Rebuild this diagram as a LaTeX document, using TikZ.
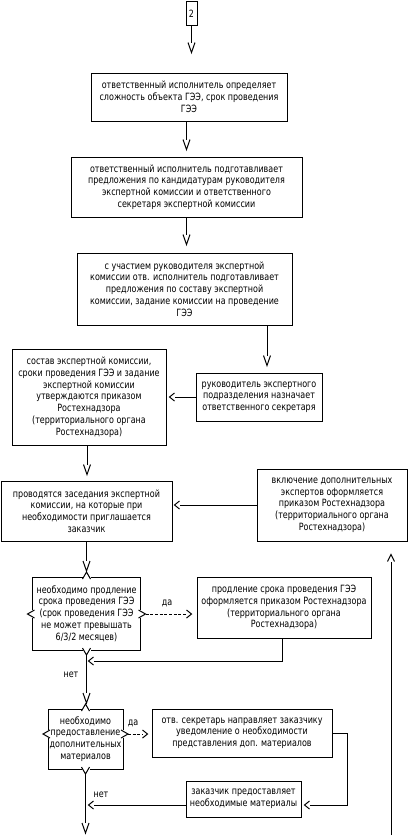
\documentclass[tikz,border=0pt]{standalone}
\usepackage{fontspec}
\setmainfont{DejaVu Sans}[FakeStretch=0.8]
\usetikzlibrary{arrows.meta}
\pgfdeclarearrow{
  name = VTip,
  parameters = {\the\pgfarrowlength,\the\pgfarrowwidth},
  setup code = {
    \pgfarrowssettipend{0pt}
    \pgfarrowssetlineend{-\pgfarrowlength}
    \pgfarrowssetbackend{-\pgfarrowlength}
    \pgfarrowssetvisualbackend{-\pgfarrowlength}
    \pgfarrowshullpoint{0pt}{0pt}
    \pgfarrowsupperhullpoint{-\pgfarrowlength}{.5\pgfarrowwidth}
    \pgfarrowssavethe\pgfarrowlength
    \pgfarrowssavethe\pgfarrowwidth
  },
  drawing code = {
    \pgfsetdash{}{0pt}
    \pgfsetmiterjoin
    \pgfpathmoveto{\pgfqpoint{-\pgfarrowlength}{.5\pgfarrowwidth}}
    \pgfpathlineto{\pgfqpoint{0pt}{0pt}}
    \pgfpathlineto{\pgfqpoint{-\pgfarrowlength}{-.5\pgfarrowwidth}}
    \pgfusepathqstroke
  },
  defaults = {length = 10pt, width = 7pt}
}
\newcommand{\txtfont}{\fontsize{10}{11.75}\selectfont}
\tikzset{
  box/.style={draw, line width=1pt, align=center, inner sep=0pt, font=\txtfont},
  conn/.style={line width=1pt},
  varr/.style={conn, -{VTip[length=10pt,width=7pt]}},
  harr/.style={conn, -{VTip[length=5pt,width=8pt]}},
  uarr/.style={conn, -{VTip[length=7pt,width=7pt]}},
  dashedline/.style={dash pattern=on 3pt off 1.7pt},
  lbl/.style={font=\txtfont, inner sep=0pt},
  chev/.style={line width=1pt},
}
% #1 name, #2 cx, #3 top, #4 bottom, #5 left, #6 right, #7 side y
\newcommand{\decmarks}[7]{%
  \fill[white] ({#2-4},{#3-1}) rectangle ({#2+4},{#3+1});
  \draw[chev] ({#2-4},{#3+2}) -- (#2,{#3-5}) -- ({#2+4},{#3+2});
  \fill[white] ({#2-4},{#4-1}) rectangle ({#2+4},{#4+1});
  \draw[chev] ({#2-4},{#4-2}) -- (#2,{#4+5}) -- ({#2+4},{#4-2});
  \fill[white] ({#5-1},{#7-4}) rectangle ({#5+1},{#7+4});
  \draw[chev] ({#5+2},{#7-4}) -- ({#5-5},#7) -- ({#5+2},{#7+4});
  \fill[white] ({#6-1},{#7-4}) rectangle ({#6+1},{#7+4});
  \draw[chev] ({#6-2},{#7-4}) -- ({#6+5},#7) -- ({#6-2},{#7+4});
  \coordinate (#1t) at (#2,{#3-5});
  \coordinate (#1b) at (#2,{#4+5});
  \coordinate (#1r) at ({#6+5},#7);
}
\begin{document}
\begin{tikzpicture}[x=1pt,y=-1pt]
\fill[white] (0,0) rectangle (409,839);
\useasboundingbox (0,0) rectangle (409,839);

\node[box, minimum width=11pt, minimum height=24.5pt] (b0) at (191.5,13.3) {2};
\node[box, minimum width=196pt, minimum height=48pt] (b1) at (189,97)
  {ответственный исполнитель определяет\\сложность объекта ГЭЭ, срок проведения\\ГЭЭ};
\node[box, minimum width=231pt, minimum height=60pt] (b2) at (186.5,187)
  {ответственный исполнитель подготавливает\\предложения по кандидатурам руководителя\\экспертной комиссии и ответственного\\секретаря экспертной комиссии};
\node[box, minimum width=215pt, minimum height=72pt] (b3) at (184.5,289)
  {с участием руководителя экспертной\\комиссии отв. исполнитель подготавливает\\предложения по составу экспертной\\комиссии, задание комиссии на проведение\\ГЭЭ};
\node[box, minimum width=126pt, minimum height=48pt] (b5) at (259,397)
  {руководитель экспертного\\подразделения назначает\\ответственного секретаря};
\node[box, minimum width=154pt, minimum height=96pt] (b4) at (89,397)
  {состав экспертной комиссии,\\сроки проведения ГЭЭ и задание\\экспертной комиссии\\утверждаются приказом\\Ростехнадзора\\(территориального органа\\Ростехнадзора)};
\node[box, minimum width=171pt, minimum height=60pt] (b6) at (86.5,511)
  {проводятся заседания экспертной\\комиссии, на которые при\\необходимости приглашается\\заказчик};
\node[box, minimum width=150pt, minimum height=72pt] (b7) at (332,505)
  {включение дополнительных\\экспертов оформляется\\приказом Ростехнадзора\\(территориального органа\\Ростехнадзора)};
\node[box, minimum width=108pt, minimum height=73pt] (d1) at (86.5,613.5)
  {необходимо продление\\срока проведения ГЭЭ\\(срок проведения ГЭЭ\\не может превышать\\6/3/2 месяцев)};
\decmarks{d1}{86.5}{577}{650}{32.5}{140.5}{614}
\node[box, minimum width=174pt, minimum height=61pt] (b8) at (284,607.5)
  {продление срока проведения ГЭЭ\\оформляется приказом Ростехнадзора\\(территориального органа\\Ростехнадзора)};
\node[box, minimum width=75pt, minimum height=60pt] (d2) at (85.5,739)
  {необходимо\\предоставление\\дополнительных\\материалов};
\decmarks{d2}{85.5}{709}{769}{48}{123}{734}
\node[box, minimum width=180pt, minimum height=48pt] (b9) at (242,733)
  {отв. секретарь направляет заказчику\\уведомление о необходимости\\представления доп. материалов};
\node[box, minimum width=115pt, minimum height=36pt] (b10) at (243.5,799)
  {заказчик предоставляет\\необходимые материалы};

\node[lbl] (l1) at (167,603) {да};
\node[lbl] (l2) at (71,675) {нет};
\node[lbl] (l3) at (133,723) {да};
\node[lbl] (l4) at (101,795) {нет};

\coordinate (c35) at (267,0);
\coordinate (mx) at (87,0);
\coordinate (c8) at (282,0);
\coordinate (j1) at (86.5,661);
\coordinate (j2) at (86.5,805);
\coordinate (k1) at (347,805);
\coordinate (endp) at (86.5,833);
\coordinate (r0) at (391,835);

\draw[varr, shorten >=20pt] (b0.south) -- (b0.south |- b1.north);
\draw[varr, shorten >=7pt] (b1.south -| b2.north) -- (b2.north);
\draw[varr, shorten >=8pt] (b2.south) -- (b2.south |- b3.north);
\draw[varr, shorten >=7pt] (b3.south -| c35) -- (b5.north -| c35);
\draw[harr, shorten >=3pt] (b5.west) -- (b5.west -| b4.east);
\draw[varr, shorten >=6pt] (b4.south -| mx) -- (b6.north -| mx);
\draw[harr, shorten >=2pt] (b7.west) -- (b7.west -| b6.east);
\draw[varr, shorten >=1pt] (b6.south -| d1t) -- (d1t);
\draw[harr, dashedline, shorten >=5pt] (d1r) -- (d1r -| b8.west);
\draw[harr, shorten >=2pt] (b8.south -| c8) |- (j1);
\draw[varr, shorten >=1pt] (d1b) -- (d1b |- d2t);
\draw[harr, dashedline, shorten >=4pt] (d2r) -- (d2r -| b9.west);
\draw[harr, shorten >=3pt] (b9.east) -| (k1) -- (k1 -| b10.east);
\draw[harr, shorten >=2pt] (k1 -| b10.west) -- (j2);
\draw[varr] (d2b) -- (d2b |- endp);
\draw[uarr, shorten >=13pt] (r0) -- (r0 |- b7.south);
\end{tikzpicture}
\end{document}
